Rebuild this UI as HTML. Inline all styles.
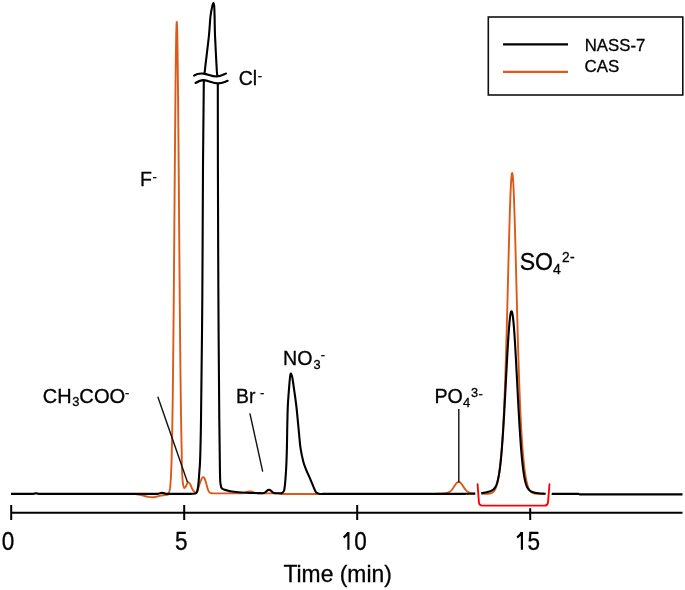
<!DOCTYPE html>
<html><head><meta charset="utf-8"><style>
html,body{margin:0;padding:0;background:#fff;}
svg{display:block;will-change:transform;}
</style></head><body>
<svg width="685" height="590" viewBox="0 0 685 590">
<rect width="685" height="590" fill="#fff"/>
<g fill="none" stroke-linejoin="round" stroke-linecap="butt">
<path d="M133,493.8 C133.92,493.93 136.7,494.27 138.5,494.6 C140.3,494.93 142.13,495.42 143.8,495.8 C145.47,496.18 146.97,496.65 148.5,496.9 C150.03,497.15 151.48,497.38 153,497.3 C154.52,497.22 155.95,496.75 157.6,496.4 C159.25,496.05 161.42,495.45 162.9,495.2 C164.38,494.95 165.62,495.03 166.5,494.9 C167.38,494.77 167.92,494.48 168.2,494.4 L168.75,492.55 L169,492.15 L169.25,491.58 L169.5,490.78 L169.75,489.67 L170,488.16 L170.25,486.14 L170.5,483.45 L170.75,479.93 L171,475.4 L171.25,469.64 L171.5,462.42 L171.75,453.49 L172,442.63 L172.25,429.6 L172.5,414.22 L172.75,396.33 L173,375.86 L173.25,352.81 L173.5,327.32 L173.75,299.6 L174,270.04 L174.25,239.12 L174.5,207.48 L174.75,175.85 L175,145.04 L175.25,115.93 L175.5,89.41 L175.75,66.33 L176,47.47 L176.25,33.5 L176.5,24.9 L176.75,22 L177,24.9 L177.25,33.5 L177.5,47.47 L177.75,66.33 L178,89.41 L178.25,115.93 L178.5,145.04 L178.75,175.85 L179,207.48 L179.25,239.12 L179.5,270.04 L179.75,299.6 L180,327.32 L180.25,352.81 L180.5,375.86 L180.75,396.33 L181,414.22 L181.25,429.6 L181.5,442.63 L181.75,453.49 C181.77,455.58 181.71,461.55 181.85,466 C181.99,470.45 182.36,476.95 182.6,480.2 C182.84,483.45 183.03,484.22 183.3,485.5 C183.57,486.78 183.83,487.65 184.2,487.9 C184.57,488.15 185,487.73 185.5,487 C186,486.27 186.67,484.28 187.2,483.5 C187.73,482.72 188.2,482.18 188.7,482.3 C189.2,482.42 189.68,483.27 190.2,484.2 C190.72,485.13 191.3,486.83 191.8,487.9 C192.3,488.97 192.77,489.92 193.2,490.6 C193.63,491.28 193.95,491.6 194.4,492 C194.85,492.4 195.43,493.13 195.9,493 C196.37,492.87 196.78,492.05 197.2,491.2 C197.62,490.35 197.97,489.18 198.4,487.9 C198.83,486.62 199.37,484.78 199.8,483.5 C200.23,482.22 200.6,481.15 201,480.2 C201.4,479.25 201.82,478.3 202.2,477.8 C202.58,477.3 202.92,477.12 203.3,477.2 C203.68,477.28 204.12,477.63 204.5,478.3 C204.88,478.97 205.27,480.17 205.6,481.2 C205.93,482.23 206.2,483.38 206.5,484.5 C206.8,485.62 207.1,486.93 207.4,487.9 C207.7,488.87 208,489.62 208.3,490.3 C208.6,490.98 208.85,491.55 209.2,492 C209.55,492.45 209.98,492.78 210.4,493 C210.82,493.22 211.1,493.23 211.7,493.3 C212.3,493.37 213.62,493.38 214,493.4 L215,493.4 L216,493.4 L217,493.4 L218,493.4 L219,493.4 L220,493.4 L221,493.4 L222,493.4 L223,493.4 L224,493.4 L225,493.4 L226,493.4 L227,493.4 L228,493.4 L229,493.4 L230,493.4 L231,493.4 L232,493.4 L233,493.4 L234,493.4 L235,493.4 L236,493.4 L237,493.4 L238,493.39 L239,493.38 L240,493.36 L241,493.31 L242,493.22 L243,493.08 L244,492.87 L245,492.59 L246,492.26 L247,491.91 L248,491.62 L249,491.44 L250,491.41 L251,491.53 L252,491.79 L253,492.12 L254,492.46 L255,492.76 L256,493 L257,493.17 L258,493.28 L259,493.34 L260,493.37 L261,493.39 L262,493.4 L263,493.4 L264,493.4 L265,493.4 L266,493.4 L267,493.4 L268,493.4 L269,493.4 L270,493.4 L271,493.4 L272,493.4 L273,493.4 L274,493.4 L275,493.4 L276,493.4 L277,493.4 L278,493.4 L282,494 L318,494 L322,493.9 L322.25,493.9 L322.5,493.9 L322.75,493.9 L323,493.9 L323.25,493.9 L323.5,493.9 L323.75,493.9 L324,493.9 L324.25,493.9 L324.5,493.9 L324.75,493.9 L325,493.9 L325.25,493.9 L325.5,493.9 L325.75,493.9 L326,493.9 L326.25,493.9 L326.5,493.9 L326.75,493.9 L327,493.9 L327.25,493.9 L327.5,493.9 L327.75,493.9 L328,493.9 L328.25,493.9 L328.5,493.9 L328.75,493.9 L329,493.9 L329.25,493.9 L329.5,493.9 L329.75,493.9 L330,493.9 L330.25,493.9 L330.5,493.9 L330.75,493.9 L331,493.9 L331.25,493.9 L331.5,493.9 L331.75,493.9 L332,493.9 L332.25,493.9 L332.5,493.9 L332.75,493.9 L333,493.9 L333.25,493.9 L333.5,493.9 L333.75,493.9 L334,493.9 L334.25,493.9 L334.5,493.9 L334.75,493.9 L335,493.9 L335.25,493.9 L335.5,493.9 L335.75,493.9 L336,493.9 L336.25,493.9 L336.5,493.9 L336.75,493.9 L337,493.9 L337.25,493.9 L337.5,493.9 L337.75,493.9 L338,493.9 L338.25,493.9 L338.5,493.9 L338.75,493.9 L339,493.9 L339.25,493.9 L339.5,493.9 L339.75,493.9 L340,493.9 L340.25,493.9 L340.5,493.9 L340.75,493.9 L341,493.9 L341.25,493.9 L341.5,493.9 L341.75,493.9 L342,493.9 L342.25,493.9 L342.5,493.9 L342.75,493.9 L343,493.9 L343.25,493.9 L343.5,493.9 L343.75,493.9 L344,493.9 L344.25,493.9 L344.5,493.9 L344.75,493.9 L345,493.9 L345.25,493.9 L345.5,493.9 L345.75,493.9 L346,493.9 L346.25,493.9 L346.5,493.9 L346.75,493.9 L347,493.9 L347.25,493.9 L347.5,493.9 L347.75,493.9 L348,493.9 L348.25,493.9 L348.5,493.9 L348.75,493.9 L349,493.9 L349.25,493.9 L349.5,493.9 L349.75,493.9 L350,493.9 L350.25,493.9 L350.5,493.9 L350.75,493.9 L351,493.9 L351.25,493.9 L351.5,493.9 L351.75,493.9 L352,493.9 L352.25,493.9 L352.5,493.9 L352.75,493.9 L353,493.9 L353.25,493.9 L353.5,493.9 L353.75,493.9 L354,493.9 L354.25,493.9 L354.5,493.9 L354.75,493.9 L355,493.9 L355.25,493.9 L355.5,493.9 L355.75,493.9 L356,493.9 L356.25,493.9 L356.5,493.9 L356.75,493.9 L357,493.9 L357.25,493.9 L357.5,493.9 L357.75,493.9 L358,493.9 L358.25,493.9 L358.5,493.9 L358.75,493.9 L359,493.9 L359.25,493.9 L359.5,493.9 L359.75,493.9 L360,493.9 L360.25,493.9 L360.5,493.9 L360.75,493.9 L361,493.9 L361.25,493.9 L361.5,493.9 L361.75,493.9 L362,493.9 L362.25,493.9 L362.5,493.9 L362.75,493.9 L363,493.9 L363.25,493.9 L363.5,493.9 L363.75,493.9 L364,493.9 L364.25,493.9 L364.5,493.9 L364.75,493.9 L365,493.9 L365.25,493.9 L365.5,493.9 L365.75,493.9 L366,493.9 L366.25,493.9 L366.5,493.9 L366.75,493.9 L367,493.9 L367.25,493.9 L367.5,493.9 L367.75,493.9 L368,493.9 L368.25,493.9 L368.5,493.9 L368.75,493.9 L369,493.9 L369.25,493.9 L369.5,493.9 L369.75,493.9 L370,493.9 L370.25,493.9 L370.5,493.9 L370.75,493.9 L371,493.9 L371.25,493.9 L371.5,493.9 L371.75,493.9 L372,493.9 L372.25,493.9 L372.5,493.9 L372.75,493.9 L373,493.9 L373.25,493.9 L373.5,493.9 L373.75,493.9 L374,493.9 L374.25,493.9 L374.5,493.9 L374.75,493.9 L375,493.9 L375.25,493.9 L375.5,493.9 L375.75,493.9 L376,493.9 L376.25,493.9 L376.5,493.9 L376.75,493.9 L377,493.9 L377.25,493.9 L377.5,493.9 L377.75,493.9 L378,493.9 L378.25,493.9 L378.5,493.9 L378.75,493.9 L379,493.9 L379.25,493.9 L379.5,493.9 L379.75,493.9 L380,493.9 L380.25,493.9 L380.5,493.9 L380.75,493.9 L381,493.9 L381.25,493.9 L381.5,493.9 L381.75,493.9 L382,493.9 L382.25,493.9 L382.5,493.9 L382.75,493.9 L383,493.9 L383.25,493.9 L383.5,493.9 L383.75,493.9 L384,493.9 L384.25,493.9 L384.5,493.9 L384.75,493.9 L385,493.9 L385.25,493.9 L385.5,493.9 L385.75,493.9 L386,493.9 L386.25,493.9 L386.5,493.9 L386.75,493.9 L387,493.9 L387.25,493.9 L387.5,493.9 L387.75,493.9 L388,493.9 L388.25,493.9 L388.5,493.9 L388.75,493.9 L389,493.9 L389.25,493.9 L389.5,493.9 L389.75,493.9 L390,493.9 L390.25,493.9 L390.5,493.9 L390.75,493.9 L391,493.9 L391.25,493.9 L391.5,493.9 L391.75,493.9 L392,493.9 L392.25,493.9 L392.5,493.9 L392.75,493.9 L393,493.9 L393.25,493.9 L393.5,493.9 L393.75,493.9 L394,493.9 L394.25,493.9 L394.5,493.9 L394.75,493.9 L395,493.9 L395.25,493.9 L395.5,493.9 L395.75,493.9 L396,493.9 L396.25,493.9 L396.5,493.9 L396.75,493.9 L397,493.9 L397.25,493.9 L397.5,493.9 L397.75,493.9 L398,493.9 L398.25,493.9 L398.5,493.9 L398.75,493.9 L399,493.9 L399.25,493.9 L399.5,493.9 L399.75,493.9 L400,493.9 L400.25,493.9 L400.5,493.9 L400.75,493.9 L401,493.9 L401.25,493.9 L401.5,493.9 L401.75,493.9 L402,493.9 L402.25,493.9 L402.5,493.9 L402.75,493.9 L403,493.9 L403.25,493.9 L403.5,493.9 L403.75,493.9 L404,493.9 L404.25,493.9 L404.5,493.9 L404.75,493.9 L405,493.9 L405.25,493.9 L405.5,493.9 L405.75,493.9 L406,493.9 L406.25,493.9 L406.5,493.9 L406.75,493.9 L407,493.9 L407.25,493.9 L407.5,493.9 L407.75,493.9 L408,493.9 L408.25,493.9 L408.5,493.9 L408.75,493.9 L409,493.9 L409.25,493.9 L409.5,493.9 L409.75,493.9 L410,493.9 L410.25,493.9 L410.5,493.9 L410.75,493.9 L411,493.9 L411.25,493.9 L411.5,493.9 L411.75,493.9 L412,493.9 L412.25,493.9 L412.5,493.9 L412.75,493.9 L413,493.9 L413.25,493.9 L413.5,493.9 L413.75,493.9 L414,493.9 L414.25,493.9 L414.5,493.9 L414.75,493.9 L415,493.9 L415.25,493.9 L415.5,493.9 L415.75,493.9 L416,493.9 L416.25,493.9 L416.5,493.9 L416.75,493.9 L417,493.9 L417.25,493.9 L417.5,493.9 L417.75,493.9 L418,493.9 L418.25,493.9 L418.5,493.9 L418.75,493.9 L419,493.9 L419.25,493.9 L419.5,493.9 L419.75,493.9 L420,493.9 L420.25,493.9 L420.5,493.9 L420.75,493.9 L421,493.9 L421.25,493.9 L421.5,493.9 L421.75,493.9 L422,493.9 L422.25,493.9 L422.5,493.9 L422.75,493.9 L423,493.9 L423.25,493.9 L423.5,493.9 L423.75,493.9 L424,493.9 L424.25,493.9 L424.5,493.9 L424.75,493.9 L425,493.9 L425.25,493.9 L425.5,493.9 L425.75,493.9 L426,493.9 L426.25,493.9 L426.5,493.9 L426.75,493.9 L427,493.9 L427.25,493.9 L427.5,493.9 L427.75,493.9 L428,493.89 L428.25,493.89 L428.5,493.89 L428.75,493.89 L429,493.89 L429.25,493.89 L429.5,493.89 L429.75,493.89 L430,493.89 L430.25,493.89 L430.5,493.89 L430.75,493.89 L431,493.88 L431.25,493.88 L431.5,493.88 L431.75,493.88 L432,493.88 L432.25,493.88 L432.5,493.87 L432.75,493.87 L433,493.87 L433.25,493.87 L433.5,493.86 L433.75,493.86 L434,493.86 L434.25,493.86 L434.5,493.85 L434.75,493.85 L435,493.84 L435.25,493.84 L435.5,493.84 L435.75,493.83 L436,493.83 L436.25,493.82 L436.5,493.81 L436.75,493.81 L437,493.8 L437.25,493.79 L437.5,493.79 L437.75,493.78 L438,493.77 L438.25,493.76 L438.5,493.75 L438.75,493.75 L439,493.74 L439.25,493.73 L439.5,493.71 L439.75,493.7 L440,493.69 L440.25,493.68 L440.5,493.67 L440.75,493.65 L441,493.64 L441.25,493.62 L441.5,493.61 L441.75,493.59 L442,493.57 L442.25,493.55 L442.5,493.54 L442.75,493.52 L443,493.49 L443.25,493.47 L443.5,493.45 L443.75,493.42 L444,493.4 L444.25,493.37 L444.5,493.34 L444.75,493.31 L445,493.27 L445.25,493.23 L445.5,493.19 L445.75,493.15 L446,493.1 L446.25,493.05 L446.5,493 L446.75,492.94 L447,492.88 L447.25,492.8 L447.5,492.73 L447.75,492.64 L448,492.55 L448.25,492.45 L448.5,492.34 L448.75,492.22 L449,492.09 L449.25,491.95 L449.5,491.8 L449.75,491.63 L450,491.45 L450.25,491.26 L450.5,491.06 L450.75,490.83 L451,490.6 L451.25,490.35 L451.5,490.08 L451.75,489.8 L452,489.51 L452.25,489.2 L452.5,488.87 L452.75,488.54 L453,488.19 L453.25,487.83 L453.5,487.47 L453.75,487.09 L454,486.72 L454.25,486.34 L454.5,485.96 L454.75,485.58 L455,485.2 L455.25,484.83 L455.5,484.48 L455.75,484.13 L456,483.8 L456.25,483.49 L456.5,483.2 L456.75,482.94 L457,482.7 L457.25,482.49 L457.5,482.31 L457.75,482.16 L458,482.04 L458.25,481.96 L458.5,481.91 L458.75,481.9 L459,481.93 L459.25,481.99 L459.5,482.08 L459.75,482.21 L460,482.37 L460.25,482.57 L460.5,482.79 L460.75,483.04 L461,483.32 L461.25,483.62 L461.5,483.93 L461.75,484.27 L462,484.62 L462.25,484.98 L462.5,485.35 L462.75,485.73 L463,486.11 L463.25,486.49 L463.5,486.87 L463.75,487.24 L464,487.61 L464.25,487.98 L464.5,488.33 L464.75,488.67 L465,489 L465.25,489.32 L465.5,489.63 L465.75,489.92 L466,490.19 L466.25,490.45 L466.5,490.7 L466.75,490.93 L467,491.14 L467.25,491.34 L467.5,491.53 L467.75,491.7 L468,491.86 L468.25,492.01 L468.5,492.15 L468.75,492.27 L469,492.39 L469.25,492.49 L469.5,492.59 L469.75,492.68 L470,492.76 L470.25,492.83 L470.5,492.9 L470.75,492.96 L471,493.02 L471.25,493.08 L471.5,493.12 L471.75,493.17 L472,493.21 L472.25,493.25 L472.5,493.29 L472.75,493.32 L473,493.35 L473.25,493.38 L473.5,493.41 L473.75,493.43 L474,493.46 L474.25,493.48 L474.5,493.5 L474.75,493.52 L475,493.54 L475.25,493.56 L475.5,493.58 L475.75,493.6 L476,493.61 L476.25,493.63 L476.5,493.64 L476.75,493.66 L477,493.67 L477.25,493.68 L477.5,493.7 L477.75,493.71 L478,493.72 L478.25,493.73 L478.5,493.74 L478.75,493.75 L479,493.76 L479.25,493.77 L479.5,493.77 L479.75,493.78 L480,493.79 L480.25,493.8 L480.5,493.8 L480.75,493.81 L481,493.82 L481.25,493.82 L481.5,493.83 L481.75,493.83 L482,493.83 L482.25,493.84 L482.5,493.84 L482.75,493.85 L483,493.85 L483.25,493.85 L483.5,493.85 L483.75,493.85 L484,493.86 L484.25,493.86 L484.5,493.86 L484.75,493.86 L485,493.86 L485.25,493.85 L485.5,493.85 L485.75,493.85 L486,493.84 L486.25,493.84 L486.5,493.83 L486.75,493.83 L487,493.82 L487.25,493.81 L487.5,493.79 L487.75,493.78 L488,493.76 L488.25,493.74 L488.5,493.72 L488.75,493.7 L489,493.67 L489.25,493.63 L489.5,493.6 L489.75,493.55 L490,493.5 L490.25,493.45 L490.5,493.38 L490.75,493.31 L491,493.23 L491.25,493.14 L491.5,493.03 L491.75,492.92 L492,492.79 L492.25,492.65 L492.5,492.49 L492.75,492.31 L493,492.11 L493.25,491.89 L493.5,491.65 L493.75,491.38 L494,491.08 L494.25,490.75 L494.5,490.39 L494.75,489.99 L495,489.56 L495.25,489.08 L495.5,488.56 L495.75,487.99 L496,487.38 L496.25,486.7 L496.5,485.97 L496.75,485.18 L497,484.32 L497.25,483.4 L497.5,482.39 L497.75,481.32 L498,480.15 L498.25,478.91 L498.5,477.56 L498.75,476.13 L499,474.59 L499.25,472.94 L499.5,471.17 L499.75,469.29 L500,467.28 L500.25,465.13 L500.5,462.84 L500.75,460.41 L501,457.81 L501.25,455.04 L501.5,452.09 L501.75,448.96 L502,445.62 L502.25,442.07 L502.5,438.29 L502.75,434.27 L503,430 L503.25,425.46 L503.5,420.64 L503.75,415.53 L504,410.11 L504.25,404.36 L504.5,398.29 L504.75,391.88 L505,385.12 L505.25,378.02 L505.5,370.56 L505.75,362.75 L506,354.61 L506.25,346.14 L506.5,337.37 L506.75,328.31 L507,319.01 L507.25,309.49 L507.5,299.8 L507.75,289.99 L508,280.12 L508.25,270.25 L508.5,260.45 L508.75,250.8 L509,241.36 L509.25,232.23 L509.5,223.47 L509.75,215.18 L510,207.43 L510.25,200.3 L510.5,193.87 L510.75,188.2 L511,183.36 L511.25,179.39 L511.5,176.36 L511.75,174.28 L512,173.18 L512.25,173.08 L512.5,173.98 L512.75,175.86 L513,178.71 L513.25,182.49 L513.5,187.17 L513.75,192.67 L514,198.96 L514.25,205.96 L514.5,213.59 L514.75,221.78 L515,230.45 L515.25,239.51 L515.5,248.89 L515.75,258.51 L516,268.28 L516.25,278.14 L516.5,288.02 L516.75,297.84 L517,307.56 L517.25,317.12 L517.5,326.47 L517.75,335.58 L518,344.41 L518.25,352.94 L518.5,361.15 L518.75,369.02 L519,376.55 L519.25,383.73 L519.5,390.56 L519.75,397.04 L520,403.18 L520.25,408.98 L520.5,414.47 L520.75,419.64 L521,424.52 L521.25,429.11 L521.5,433.44 L521.75,437.5 L522,441.33 L522.25,444.93 L522.5,448.31 L522.75,451.48 L523,454.46 L523.25,457.27 L523.5,459.9 L523.75,462.37 L524,464.69 L524.25,466.86 L524.5,468.9 L524.75,470.81 L525,472.59 L525.25,474.27 L525.5,475.83 L525.75,477.29 L526,478.65 L526.25,479.91 L526.5,481.09 L526.75,482.19 L527,483.2 L527.25,484.14 L527.5,485.01 L527.75,485.82 L528,486.56 L528.25,487.25 L528.5,487.88 L528.75,488.45 L529,488.98 L529.25,489.47 L529.5,489.91 L529.75,490.31 L530,490.68 L530.25,491.02 L530.5,491.32 L530.75,491.6 L531,491.84 L531.25,492.07 L531.5,492.27 L531.75,492.45 L532,492.62 L532.25,492.77 L532.5,492.9 L532.75,493.02 L533,493.12 L533.25,493.21 L533.5,493.3 L533.75,493.37 L534,493.44 L534.25,493.5 L534.5,493.55 L534.75,493.59 L535,493.63 L535.25,493.67 L535.5,493.7 L535.75,493.72 L536,493.75 L536.25,493.77 L536.5,493.79 L536.75,493.8 L537,493.82 L537.25,493.83 L537.5,493.84 L537.75,493.85 L538,493.85 L538.25,493.86 L538.5,493.87 L538.75,493.87 L539,493.88 L539.25,493.88 L539.5,493.88 L539.75,493.89 L540,493.89 L540.25,493.89 L540.5,493.89 L540.75,493.89 L541,493.89 L541.25,493.89 L541.5,493.9 L541.75,493.9 L542,493.9 L542.25,493.9 L542.5,493.9 L542.75,493.9 L543,493.9 L543.25,493.9 L543.5,493.9 L543.75,493.9 L544,493.9 L544.25,493.9 L544.5,493.9 L544.75,493.9 L545,493.9" stroke="#DC5A19" stroke-width="1.9"/>
<path d="M11,493.85 L33,493.85 L36,493.25 L39,493.85 L158,493.85 L162.2,492.85 L166,493.85 L190,493.85 L193.5,493.75 L195.4,493.55 C195.7,493.19 196.68,493.16 197.2,491.4 C197.72,489.64 198.13,486.4 198.5,483 C198.87,479.6 199.13,474.83 199.4,471 C199.67,467.17 199.83,468.5 200.1,460 C200.37,451.5 200.63,446.67 201,420 C201.37,393.33 201.97,342.5 202.3,300 C202.63,257.5 202.75,201.17 203,165 C203.25,128.83 203.6,97.67 203.8,83 C204,68.33 204.07,78.67 204.2,77 C204.33,75.33 204.38,75 204.6,73 C204.82,71 204.77,71.33 205.5,65 C206.23,58.67 208.18,43 209,35 C209.82,27 209.85,21.83 210.4,17 C210.95,12.17 211.8,8.33 212.3,6 C212.8,3.67 213.08,3 213.4,3 C213.72,3 214,3.67 214.2,6 C214.4,8.33 214.47,12.17 214.6,17 C214.73,21.83 214.68,27 215,35 C215.32,43 216.17,58.67 216.5,65 C216.83,71.33 216.82,70.83 217,73 C217.18,75.17 217.47,76.33 217.6,78 C217.73,79.67 217.75,68.5 217.8,83 C217.85,97.5 217.8,128.83 217.9,165 C218,201.17 218.17,257.5 218.4,300 C218.63,342.5 219.03,391 219.3,420 C219.57,449 219.78,463.33 220,474 C220.22,484.67 220.27,481.58 220.6,484 C220.93,486.42 220.87,487.42 222,488.5 C223.13,489.58 225.8,490 227.4,490.5 C229,491 228.5,491.13 231.6,491.5 C234.7,491.87 240.9,492.42 246,492.7 C251.1,492.98 259.5,493.12 262.2,493.2 L262.5,493.21 L263,493.15 L263.5,493.05 L264,492.9 L264.5,492.7 L265,492.43 L265.5,492.09 L266,491.7 L266.5,491.27 L267,490.83 L267.5,490.42 L268,490.09 L268.5,489.88 L269,489.8 L269.5,489.88 L270,490.09 L270.5,490.42 L271,490.83 L271.5,491.27 L272,491.7 L272.5,492.09 L273,492.43 L273.5,492.7 L274,492.9 L274.5,493.05 L275,493.15 L275.5,493.21 L276,493.25 L276.5,493.27 L277,493.29 L277.5,493.29 L278,493.3 L278.5,493.3 L279,493.3 L279.5,493.3 L280,493.3 L280.5,493.3 L281,493.3 C281.08,493.3 281.02,493.68 281.5,493.3 C281.98,492.92 283.3,492.67 283.9,491 C284.5,489.33 284.7,487.53 285.1,483.3 C285.5,479.07 286,471.52 286.3,465.6 C286.6,459.68 286.75,453.73 286.9,447.8 C287.05,441.87 287.05,436.87 287.2,430 C287.35,423.13 287.5,413.47 287.8,406.6 C288.1,399.73 288.62,393.82 289,388.8 C289.38,383.78 289.8,379.03 290.1,376.5 C290.4,373.97 290.55,373.85 290.8,373.6 C291.05,373.35 291.32,374.18 291.6,375 C291.88,375.82 292.1,376.2 292.5,378.5 C292.9,380.8 293.35,384.12 294,388.8 C294.65,393.48 295.62,399.73 296.4,406.6 C297.18,413.47 298.02,423.13 298.7,430 C299.38,436.87 299.72,442.47 300.5,447.8 C301.28,453.13 302.42,458.25 303.4,462 C304.38,465.75 305.2,467.33 306.4,470.3 C307.6,473.27 309.42,477.03 310.6,479.8 C311.78,482.57 312.62,484.83 313.5,486.9 C314.38,488.97 315,491.07 315.9,492.2 C316.8,493.33 317.88,493.4 318.9,493.7 C319.92,494 321.48,493.95 322,494 L322.5,493.85 L322.75,493.85 L323,493.85 L323.25,493.85 L323.5,493.85 L323.75,493.85 L324,493.85 L324.25,493.85 L324.5,493.85 L324.75,493.85 L325,493.85 L325.25,493.85 L325.5,493.85 L325.75,493.85 L326,493.85 L326.25,493.85 L326.5,493.85 L326.75,493.85 L327,493.85 L327.25,493.85 L327.5,493.85 L327.75,493.85 L328,493.85 L328.25,493.85 L328.5,493.85 L328.75,493.85 L329,493.85 L329.25,493.85 L329.5,493.85 L329.75,493.85 L330,493.85 L330.25,493.85 L330.5,493.85 L330.75,493.85 L331,493.85 L331.25,493.85 L331.5,493.85 L331.75,493.85 L332,493.85 L332.25,493.85 L332.5,493.85 L332.75,493.85 L333,493.85 L333.25,493.85 L333.5,493.85 L333.75,493.85 L334,493.85 L334.25,493.85 L334.5,493.85 L334.75,493.85 L335,493.85 L335.25,493.85 L335.5,493.85 L335.75,493.85 L336,493.85 L336.25,493.85 L336.5,493.85 L336.75,493.85 L337,493.85 L337.25,493.85 L337.5,493.85 L337.75,493.85 L338,493.85 L338.25,493.85 L338.5,493.85 L338.75,493.85 L339,493.85 L339.25,493.85 L339.5,493.85 L339.75,493.85 L340,493.85 L340.25,493.85 L340.5,493.85 L340.75,493.85 L341,493.85 L341.25,493.85 L341.5,493.85 L341.75,493.85 L342,493.85 L342.25,493.85 L342.5,493.85 L342.75,493.85 L343,493.85 L343.25,493.85 L343.5,493.85 L343.75,493.85 L344,493.85 L344.25,493.85 L344.5,493.85 L344.75,493.85 L345,493.85 L345.25,493.85 L345.5,493.85 L345.75,493.85 L346,493.85 L346.25,493.85 L346.5,493.85 L346.75,493.85 L347,493.85 L347.25,493.85 L347.5,493.85 L347.75,493.85 L348,493.85 L348.25,493.85 L348.5,493.85 L348.75,493.85 L349,493.85 L349.25,493.85 L349.5,493.85 L349.75,493.85 L350,493.85 L350.25,493.85 L350.5,493.85 L350.75,493.85 L351,493.85 L351.25,493.85 L351.5,493.85 L351.75,493.85 L352,493.85 L352.25,493.85 L352.5,493.85 L352.75,493.85 L353,493.85 L353.25,493.85 L353.5,493.85 L353.75,493.85 L354,493.85 L354.25,493.85 L354.5,493.85 L354.75,493.85 L355,493.85 L355.25,493.85 L355.5,493.85 L355.75,493.85 L356,493.85 L356.25,493.85 L356.5,493.85 L356.75,493.85 L357,493.85 L357.25,493.85 L357.5,493.85 L357.75,493.85 L358,493.85 L358.25,493.85 L358.5,493.85 L358.75,493.85 L359,493.85 L359.25,493.85 L359.5,493.85 L359.75,493.85 L360,493.85 L360.25,493.85 L360.5,493.85 L360.75,493.85 L361,493.85 L361.25,493.85 L361.5,493.85 L361.75,493.85 L362,493.85 L362.25,493.85 L362.5,493.85 L362.75,493.85 L363,493.85 L363.25,493.85 L363.5,493.85 L363.75,493.85 L364,493.85 L364.25,493.85 L364.5,493.85 L364.75,493.85 L365,493.85 L365.25,493.85 L365.5,493.85 L365.75,493.85 L366,493.85 L366.25,493.85 L366.5,493.85 L366.75,493.85 L367,493.85 L367.25,493.85 L367.5,493.85 L367.75,493.85 L368,493.85 L368.25,493.85 L368.5,493.85 L368.75,493.85 L369,493.85 L369.25,493.85 L369.5,493.85 L369.75,493.85 L370,493.85 L370.25,493.85 L370.5,493.85 L370.75,493.85 L371,493.85 L371.25,493.85 L371.5,493.85 L371.75,493.85 L372,493.85 L372.25,493.85 L372.5,493.85 L372.75,493.85 L373,493.85 L373.25,493.85 L373.5,493.85 L373.75,493.85 L374,493.85 L374.25,493.85 L374.5,493.85 L374.75,493.85 L375,493.85 L375.25,493.85 L375.5,493.85 L375.75,493.85 L376,493.85 L376.25,493.85 L376.5,493.85 L376.75,493.85 L377,493.85 L377.25,493.85 L377.5,493.85 L377.75,493.85 L378,493.85 L378.25,493.85 L378.5,493.85 L378.75,493.85 L379,493.85 L379.25,493.85 L379.5,493.85 L379.75,493.85 L380,493.85 L380.25,493.85 L380.5,493.85 L380.75,493.85 L381,493.85 L381.25,493.85 L381.5,493.85 L381.75,493.85 L382,493.85 L382.25,493.85 L382.5,493.85 L382.75,493.85 L383,493.85 L383.25,493.85 L383.5,493.85 L383.75,493.85 L384,493.85 L384.25,493.85 L384.5,493.85 L384.75,493.85 L385,493.85 L385.25,493.85 L385.5,493.85 L385.75,493.85 L386,493.85 L386.25,493.85 L386.5,493.85 L386.75,493.85 L387,493.85 L387.25,493.85 L387.5,493.85 L387.75,493.85 L388,493.85 L388.25,493.85 L388.5,493.85 L388.75,493.85 L389,493.85 L389.25,493.85 L389.5,493.85 L389.75,493.85 L390,493.85 L390.25,493.85 L390.5,493.85 L390.75,493.85 L391,493.85 L391.25,493.85 L391.5,493.85 L391.75,493.85 L392,493.85 L392.25,493.85 L392.5,493.85 L392.75,493.85 L393,493.85 L393.25,493.85 L393.5,493.85 L393.75,493.85 L394,493.85 L394.25,493.85 L394.5,493.85 L394.75,493.85 L395,493.85 L395.25,493.85 L395.5,493.85 L395.75,493.85 L396,493.85 L396.25,493.85 L396.5,493.85 L396.75,493.85 L397,493.85 L397.25,493.85 L397.5,493.85 L397.75,493.85 L398,493.85 L398.25,493.85 L398.5,493.85 L398.75,493.85 L399,493.85 L399.25,493.85 L399.5,493.85 L399.75,493.85 L400,493.85 L400.25,493.85 L400.5,493.85 L400.75,493.85 L401,493.85 L401.25,493.85 L401.5,493.85 L401.75,493.85 L402,493.85 L402.25,493.85 L402.5,493.85 L402.75,493.85 L403,493.85 L403.25,493.85 L403.5,493.85 L403.75,493.85 L404,493.85 L404.25,493.85 L404.5,493.85 L404.75,493.85 L405,493.85 L405.25,493.85 L405.5,493.85 L405.75,493.85 L406,493.85 L406.25,493.85 L406.5,493.85 L406.75,493.85 L407,493.85 L407.25,493.85 L407.5,493.85 L407.75,493.85 L408,493.85 L408.25,493.85 L408.5,493.85 L408.75,493.85 L409,493.85 L409.25,493.85 L409.5,493.85 L409.75,493.85 L410,493.85 L410.25,493.85 L410.5,493.85 L410.75,493.85 L411,493.85 L411.25,493.85 L411.5,493.85 L411.75,493.85 L412,493.85 L412.25,493.85 L412.5,493.85 L412.75,493.85 L413,493.85 L413.25,493.85 L413.5,493.85 L413.75,493.85 L414,493.85 L414.25,493.85 L414.5,493.85 L414.75,493.85 L415,493.85 L415.25,493.85 L415.5,493.85 L415.75,493.85 L416,493.85 L416.25,493.85 L416.5,493.85 L416.75,493.85 L417,493.85 L417.25,493.85 L417.5,493.85 L417.75,493.85 L418,493.85 L418.25,493.85 L418.5,493.85 L418.75,493.85 L419,493.85 L419.25,493.85 L419.5,493.85 L419.75,493.85 L420,493.85 L420.25,493.85 L420.5,493.85 L420.75,493.85 L421,493.85 L421.25,493.85 L421.5,493.85 L421.75,493.85 L422,493.85 L422.25,493.85 L422.5,493.85 L422.75,493.85 L423,493.85 L423.25,493.85 L423.5,493.85 L423.75,493.85 L424,493.85 L424.25,493.85 L424.5,493.85 L424.75,493.85 L425,493.85 L425.25,493.85 L425.5,493.85 L425.75,493.85 L426,493.85 L426.25,493.85 L426.5,493.85 L426.75,493.85 L427,493.85 L427.25,493.85 L427.5,493.85 L427.75,493.85 L428,493.85 L428.25,493.85 L428.5,493.85 L428.75,493.85 L429,493.85 L429.25,493.85 L429.5,493.85 L429.75,493.85 L430,493.85 L430.25,493.85 L430.5,493.85 L430.75,493.85 L431,493.85 L431.25,493.85 L431.5,493.85 L431.75,493.85 L432,493.85 L432.25,493.85 L432.5,493.85 L432.75,493.85 L433,493.85 L433.25,493.85 L433.5,493.85 L433.75,493.85 L434,493.85 L434.25,493.85 L434.5,493.85 L434.75,493.85 L435,493.85 L435.25,493.85 L435.5,493.85 L435.75,493.85 L436,493.85 L436.25,493.85 L436.5,493.85 L436.75,493.85 L437,493.85 L437.25,493.85 L437.5,493.85 L437.75,493.85 L438,493.85 L438.25,493.85 L438.5,493.85 L438.75,493.85 L439,493.85 L439.25,493.85 L439.5,493.85 L439.75,493.85 L440,493.85 L440.25,493.85 L440.5,493.85 L440.75,493.85 L441,493.85 L441.25,493.85 L441.5,493.85 L441.75,493.85 L442,493.85 L442.25,493.85 L442.5,493.85 L442.75,493.85 L443,493.85 L443.25,493.85 L443.5,493.85 L443.75,493.85 L444,493.85 L444.25,493.85 L444.5,493.85 L444.75,493.85 L445,493.85 L445.25,493.85 L445.5,493.85 L445.75,493.85 L446,493.85 L446.25,493.85 L446.5,493.85 L446.75,493.85 L447,493.85 L447.25,493.85 L447.5,493.85 L447.75,493.85 L448,493.85 L448.25,493.85 L448.5,493.85 L448.75,493.85 L449,493.85 L449.25,493.85 L449.5,493.85 L449.75,493.85 L450,493.85 L450.25,493.85 L450.5,493.85 L450.75,493.85 L451,493.85 L451.25,493.85 L451.5,493.85 L451.75,493.85 L452,493.85 L452.25,493.85 L452.5,493.85 L452.75,493.85 L453,493.85 L453.25,493.85 L453.5,493.85 L453.75,493.85 L454,493.85 L454.25,493.85 L454.5,493.85 L454.75,493.85 L455,493.85 L455.25,493.85 L455.5,493.85 L455.75,493.85 L456,493.85 L456.25,493.85 L456.5,493.85 L456.75,493.85 L457,493.85 L457.25,493.85 L457.5,493.85 L457.75,493.85 L458,493.85 L458.25,493.85 L458.5,493.85 L458.75,493.85 L459,493.85 L459.25,493.85 L459.5,493.85 L459.75,493.85 L460,493.84 L460.25,493.84 L460.5,493.84 L460.75,493.84 L461,493.84 L461.25,493.84 L461.5,493.84 L461.75,493.84 L462,493.84 L462.25,493.84 L462.5,493.84 L462.75,493.84 L463,493.84 L463.25,493.84 L463.5,493.84 L463.75,493.83 L464,493.83 L464.25,493.83 L464.5,493.83 L464.75,493.83 L465,493.83 L465.25,493.83 L465.5,493.83 L465.75,493.82 L466,493.82 L466.25,493.82 L466.5,493.82 L466.75,493.82 L467,493.81 L467.25,493.81 L467.5,493.81 L467.75,493.81 L468,493.81 L468.25,493.8 L468.5,493.8 L468.75,493.8 L469,493.79 L469.25,493.79 L469.5,493.79 L469.75,493.78 L470,493.78 L470.25,493.77 L470.5,493.77 L470.75,493.76 L471,493.76 L471.25,493.75 L471.5,493.75 L471.75,493.74 L472,493.74 L472.25,493.73 L472.5,493.72 L472.75,493.72 L473,493.71 L473.25,493.7 L473.5,493.69 L473.75,493.68 L474,493.67 L474.25,493.67 L474.5,493.66 L474.75,493.65 L475,493.63 L475.25,493.62 L475.5,493.61 L475.75,493.6 L476,493.59 L476.25,493.57 L476.5,493.56 L476.75,493.54 L477,493.53 L477.25,493.51 L477.5,493.5 L477.75,493.48 L478,493.46 L478.25,493.44 L478.5,493.42 L478.75,493.4 L479,493.38 L479.25,493.36 L479.5,493.34 L479.75,493.32 L480,493.29 L480.25,493.27 L480.5,493.24 L480.75,493.21 L481,493.19 L481.25,493.16 L481.5,493.13 L481.75,493.1 L482,493.07 L482.25,493.03 L482.5,493 L482.75,492.96 L483,492.93 L483.25,492.89 L483.5,492.85 L483.75,492.81 L484,492.77 L484.25,492.73 L484.5,492.68 L484.75,492.64 L485,492.59 L485.25,492.55 L485.5,492.5 L485.75,492.45 L486,492.39 L486.25,492.34 L486.5,492.29 L486.75,492.23 L487,492.17 L487.25,492.11 L487.5,492.05 L487.75,491.98 L488,491.92 L488.25,491.85 L488.5,491.78 L488.75,491.71 L489,491.63 L489.25,491.55 L489.5,491.47 L489.75,491.39 L490,491.3 L490.25,491.21 L490.5,491.11 L490.75,491.01 L491,490.9 L491.25,490.79 L491.5,490.66 L491.75,490.54 L492,490.4 L492.25,490.25 L492.5,490.1 L492.75,489.93 L493,489.74 L493.25,489.55 L493.5,489.33 L493.75,489.1 L494,488.85 L494.25,488.57 L494.5,488.27 L494.75,487.94 L495,487.58 L495.25,487.19 L495.5,486.76 L495.75,486.28 L496,485.77 L496.25,485.2 L496.5,484.58 L496.75,483.9 L497,483.16 L497.25,482.35 L497.5,481.47 L497.75,480.51 L498,479.46 L498.25,478.33 L498.5,477.1 L498.75,475.76 L499,474.32 L499.25,472.77 L499.5,471.1 L499.75,469.3 L500,467.38 L500.25,465.31 L500.5,463.11 L500.75,460.77 L501,458.27 L501.25,455.63 L501.5,452.83 L501.75,449.88 L502,446.77 L502.25,443.51 L502.5,440.09 L502.75,436.52 L503,432.79 L503.25,428.93 L503.5,424.92 L503.75,420.78 L504,416.52 L504.25,412.14 L504.5,407.66 L504.75,403.09 L505,398.44 L505.25,393.72 L505.5,388.96 L505.75,384.16 L506,379.35 L506.25,374.55 L506.5,369.78 L506.75,365.05 L507,360.39 L507.25,355.82 L507.5,351.36 L507.75,347.04 L508,342.87 L508.25,338.87 L508.5,335.08 L508.75,331.5 L509,328.16 L509.25,325.08 L509.5,322.27 L509.75,319.75 L510,317.53 L510.25,315.64 L510.5,314.07 L510.75,312.84 L511,311.96 L511.25,311.43 L511.5,311.25 L511.75,311.43 L512,311.96 L512.25,312.85 L512.5,314.08 L512.75,315.65 L513,317.55 L513.25,319.77 L513.5,322.3 L513.75,325.12 L514,328.21 L514.25,331.56 L514.5,335.15 L514.75,338.96 L515,342.97 L515.25,347.15 L515.5,351.5 L515.75,355.97 L516,360.56 L516.25,365.24 L516.5,369.98 L516.75,374.77 L517,379.6 L517.25,384.42 L517.5,389.24 L517.75,394.02 L518,398.76 L518.25,403.43 L518.5,408.03 L518.75,412.53 L519,416.93 L519.25,421.22 L519.5,425.38 L519.75,429.41 L520,433.3 L520.25,437.04 L520.5,440.63 L520.75,444.07 L521,447.36 L521.25,450.49 L521.5,453.47 L521.75,456.28 L522,458.95 L522.25,461.46 L522.5,463.83 L522.75,466.05 L523,468.13 L523.25,470.07 L523.5,471.89 L523.75,473.58 L524,475.15 L524.25,476.6 L524.5,477.95 L524.75,479.2 L525,480.34 L525.25,481.4 L525.5,482.38 L525.75,483.27 L526,484.09 L526.25,484.84 L526.5,485.53 L526.75,486.15 L527,486.73 L527.25,487.25 L527.5,487.73 L527.75,488.16 L528,488.56 L528.25,488.93 L528.5,489.26 L528.75,489.56 L529,489.83 L529.25,490.09 L529.5,490.32 L529.75,490.53 L530,490.73 L530.25,490.9 L530.5,491.07 L530.75,491.22 L531,491.36 L531.25,491.49 L531.5,491.62 L531.75,491.73 L532,491.83 L532.25,491.93 L532.5,492.03 L532.75,492.11 L533,492.2 L533.25,492.27 L533.5,492.35 L533.75,492.42 L534,492.48 L534.25,492.55 L534.5,492.61 L534.75,492.66 L535,492.72 L535.25,492.77 L535.5,492.82 L535.75,492.87 L536,492.91 L536.25,492.96 L536.5,493 L536.75,493.04 L537,493.08 L537.25,493.12 L537.5,493.15 L537.75,493.19 L538,493.22 L538.25,493.25 L538.5,493.28 L538.75,493.31 L539,493.34 L539.25,493.36 L539.5,493.39 L539.75,493.41 L540,493.43 L540.25,493.46 L540.5,493.48 L540.75,493.5 L541,493.52 L541.25,493.53 L541.5,493.55 L541.75,493.57 L542,493.58 L542.25,493.6 L542.5,493.61 L542.75,493.63 L543,493.64 L543.25,493.65 L543.5,493.66 L543.75,493.67 L544,493.69 L544.25,493.69 L544.5,493.7 L544.75,493.71 L545,493.72 L545.25,493.73 L545.5,493.74 L545.75,493.74 L546,493.75 L546.25,493.76 L546.5,493.76 L546.75,493.77 L547,493.77 L547.25,493.78 L547.5,493.78 L547.75,493.79 L548,493.79 L548.25,493.8 L548.5,493.8 L548.75,493.8 L549,493.81 L549.25,493.81 L549.5,493.81 L549.75,493.81 L550,493.82 L550.25,493.82 L550.5,493.82 L550.75,493.82 L551,493.83 L551.25,493.83 L551.5,493.83 L551.75,493.83 L552,493.83 L552.25,493.83 L552.5,493.83 L552.75,493.84 L553,493.84 L553.25,493.84 L553.5,493.84 L553.75,493.84 L554,493.84 L554.25,493.84 L554.5,493.84 L554.75,493.84 L555,493.84 L555.25,493.84 L555.5,493.84 L555.75,493.84 L556,493.84 L556.25,493.85 L556.5,493.85 L556.75,493.85 L557,493.85 L557.25,493.85 L557.5,493.85 L557.75,493.85 L558,493.85 L558.25,493.85 L558.5,493.85 L558.75,493.85 L559,493.85 L559.25,493.85 L559.5,493.85 L559.75,493.85 L560,493.85 L560.25,493.85 L560.5,493.85 L560.75,493.85 L561,493.85 L561.25,493.85 L561.5,493.85 L561.75,493.85 L562,493.85 L562.25,493.85 L562.5,493.85 L562.75,493.85 L563,493.85 L563.25,493.85 L563.5,493.85 L563.75,493.85 L564,493.85 L564.25,493.85 L564.5,493.85 L564.75,493.85 L565,493.85 L565.25,493.85 L565.5,493.85 L565.75,493.85 L566,493.85 L566.25,493.85 L566.5,493.85 L566.75,493.85 L567,493.85 L567.25,493.85 L567.5,493.85 L567.75,493.85 L568,493.85 L568.25,493.85 L568.5,493.85 L568.75,493.85 L569,493.85 L569.25,493.85 L569.5,493.85 L569.75,493.85 L570,493.85 L570.25,493.85 L570.5,493.85 L570.75,493.85 L571,493.85 L571.25,493.85 L571.5,493.85 L571.75,493.85 L572,493.85 L572.25,493.85 L572.5,493.85 L572.75,493.85 L573,493.85 L573.25,493.85 L573.5,493.85 L573.75,493.85 L574,493.85 L574.25,493.85 L574.5,493.85 L574.75,493.85 L575,493.85 L575.25,493.85 L575.5,493.85 L575.75,493.85 L576,493.85 L576.25,493.85 L576.5,493.85 L576.75,493.85 L577,493.85 L577.25,493.85 L577.5,493.85 L577.75,493.85 L578,493.85 L578.25,493.85 L578.5,493.85 L579.5,494.4 L682.5,494.4" stroke="#000" stroke-width="2.1"/>
</g>
<path d="M194,75.7 C197.4,73.2 200.5,73.3 203.5,73.6 C208.5,74.3 211.5,76.6 216.8,76.5 C220.4,76.4 223.3,74.5 226,73.5 L227.7,80.8 C224.3,82 221.5,83.5 218.2,83.4 C212.5,83.3 208.5,80.3 203.6,80.1 C200.5,80 197.9,81.5 195.5,83 Z" fill="#fff"/>
<g fill="none" stroke="#000" stroke-width="2.1" stroke-linecap="round">
<path d="M194,75.7 C197.4,73.2 200.5,73.3 203.5,73.6 C208.5,74.3 211.5,76.6 216.8,76.5 C220.4,76.4 223.3,74.5 226,73.5"/>
<path d="M195.5,83 C197.9,81.5 200.5,80 203.6,80.1 C208.5,80.3 212.5,83.3 218.2,83.4 C221.5,83.5 224.3,82 227.7,80.8"/>
</g>
<g stroke="#111" stroke-width="1.4" fill="none">
<path d="M157.8,396.8 L187.6,482.6"/>
<path d="M249.9,413.3 L262.7,471.7"/>
<path d="M458.8,408.9 L458.8,482.6"/>
</g>
<path d="M477.6,484.2 L478.9,502.1 Q479.2,505.6 482.6,505.6 L544.6,505.6 Q547.7,505.6 548,502.3 L549.5,484.2" fill="none" stroke="#fff" stroke-width="6"/>
<path d="M477.6,484.2 L478.9,502.1 Q479.2,505.6 482.6,505.6 L544.6,505.6 Q547.7,505.6 548,502.3 L549.5,484.2" fill="none" stroke="#f00" stroke-width="1.85" stroke-linecap="round"/>
<g stroke="#000" stroke-width="2" fill="none">
<path d="M11.2,512.7 L682.5,512.7"/>
<path d="M11.2,505 L11.2,520 M184.2,505 L184.2,520 M357.2,505 L357.2,520 M530.2,508.2 L530.2,520"/>
</g>
<g fill="none" stroke="#000" stroke-width="2.15">
<path d="M348.4,532 L348.4,549.8 M348.1,532.6 Q346.6,535.6 343.6,537.5"/>
<path d="M521.9,532 L521.9,549.8 M521.6,532.6 Q520.1,535.6 517.1,537.5"/>
</g>
<g font-family="Liberation Sans, sans-serif" fill="#000" stroke="#000" stroke-width="0.3">
<g font-size="23" transform="translate(0,549.5) scale(0.98,1.13)">
<text x="1.71" y="0">0</text>
<text x="178.63" y="0">5</text>
<text x="361.43" y="0">0</text>
<text x="538.16" y="0">5</text>
</g>
<text transform="translate(283.4,581.7) scale(0.995,1.05)" font-size="23">Time (min)</text>
<text transform="translate(140.05,185.74) scale(0.977)" font-size="20">F</text>
<text transform="translate(152.5,180.62) scale(1.0)" font-size="13">-</text>
<text transform="translate(238.64,84.54) scale(0.974)" font-size="20">C</text>
<text transform="translate(252.71,84.54) scale(0.974,0.964)" font-size="20">l</text>
<text transform="translate(257.65,79.62) scale(1.0)" font-size="13">-</text>
<text transform="translate(42.77,402.50) scale(0.997)" font-size="20">CH</text>
<text transform="translate(72.21,406.36) scale(0.99)" font-size="13">3</text>
<text transform="translate(79.32,402.68) scale(1.008)" font-size="20">COO</text>
<text transform="translate(125.1,396.62) scale(1.0)" font-size="13">-</text>
<text transform="translate(236.09,402.91) scale(0.965)" font-size="20">Br</text>
<text transform="translate(259.95,397.12) scale(1.0)" font-size="13">-</text>
<text transform="translate(283.11,364.50) scale(0.981)" font-size="20">NO</text>
<text transform="translate(313.43,368.94) scale(0.986)" font-size="13">3</text>
<text transform="translate(320.7,358.92) scale(1.0)" font-size="13">-</text>
<text transform="translate(434.41,402.75) scale(0.982)" font-size="20">PO</text>
<text transform="translate(463.08,406.90) scale(1.0)" font-size="13">4</text>
<text transform="translate(471.05,396.91) scale(0.981)" font-size="13">3</text>
<text transform="translate(478.45,397.62) scale(1.0)" font-size="13">-</text>
<text transform="translate(519.67,269.58) scale(1.003)" font-size="23">SO</text>
<text transform="translate(552.99,274.12) scale(1.009)" font-size="14">4</text>
<text transform="translate(561.99,261.57) scale(0.984)" font-size="14">2</text>
<text transform="translate(569.88,261.85) scale(1.0)" font-size="14">-</text>
<text transform="translate(584.76,50.80) scale(0.987)" font-size="17">NASS-7</text>
<text transform="translate(584.44,71.85) scale(0.995)" font-size="17">CAS</text>
</g>
<rect x="488.3" y="17" width="194.5" height="78" fill="none" stroke="#111" stroke-width="1.6"/>
<path d="M503,44.4 L568,44.4" stroke="#000" stroke-width="2.2"/>
<path d="M503,71.8 L568,71.8" stroke="#DC5A19" stroke-width="2.2"/>
</svg>
</body></html>
